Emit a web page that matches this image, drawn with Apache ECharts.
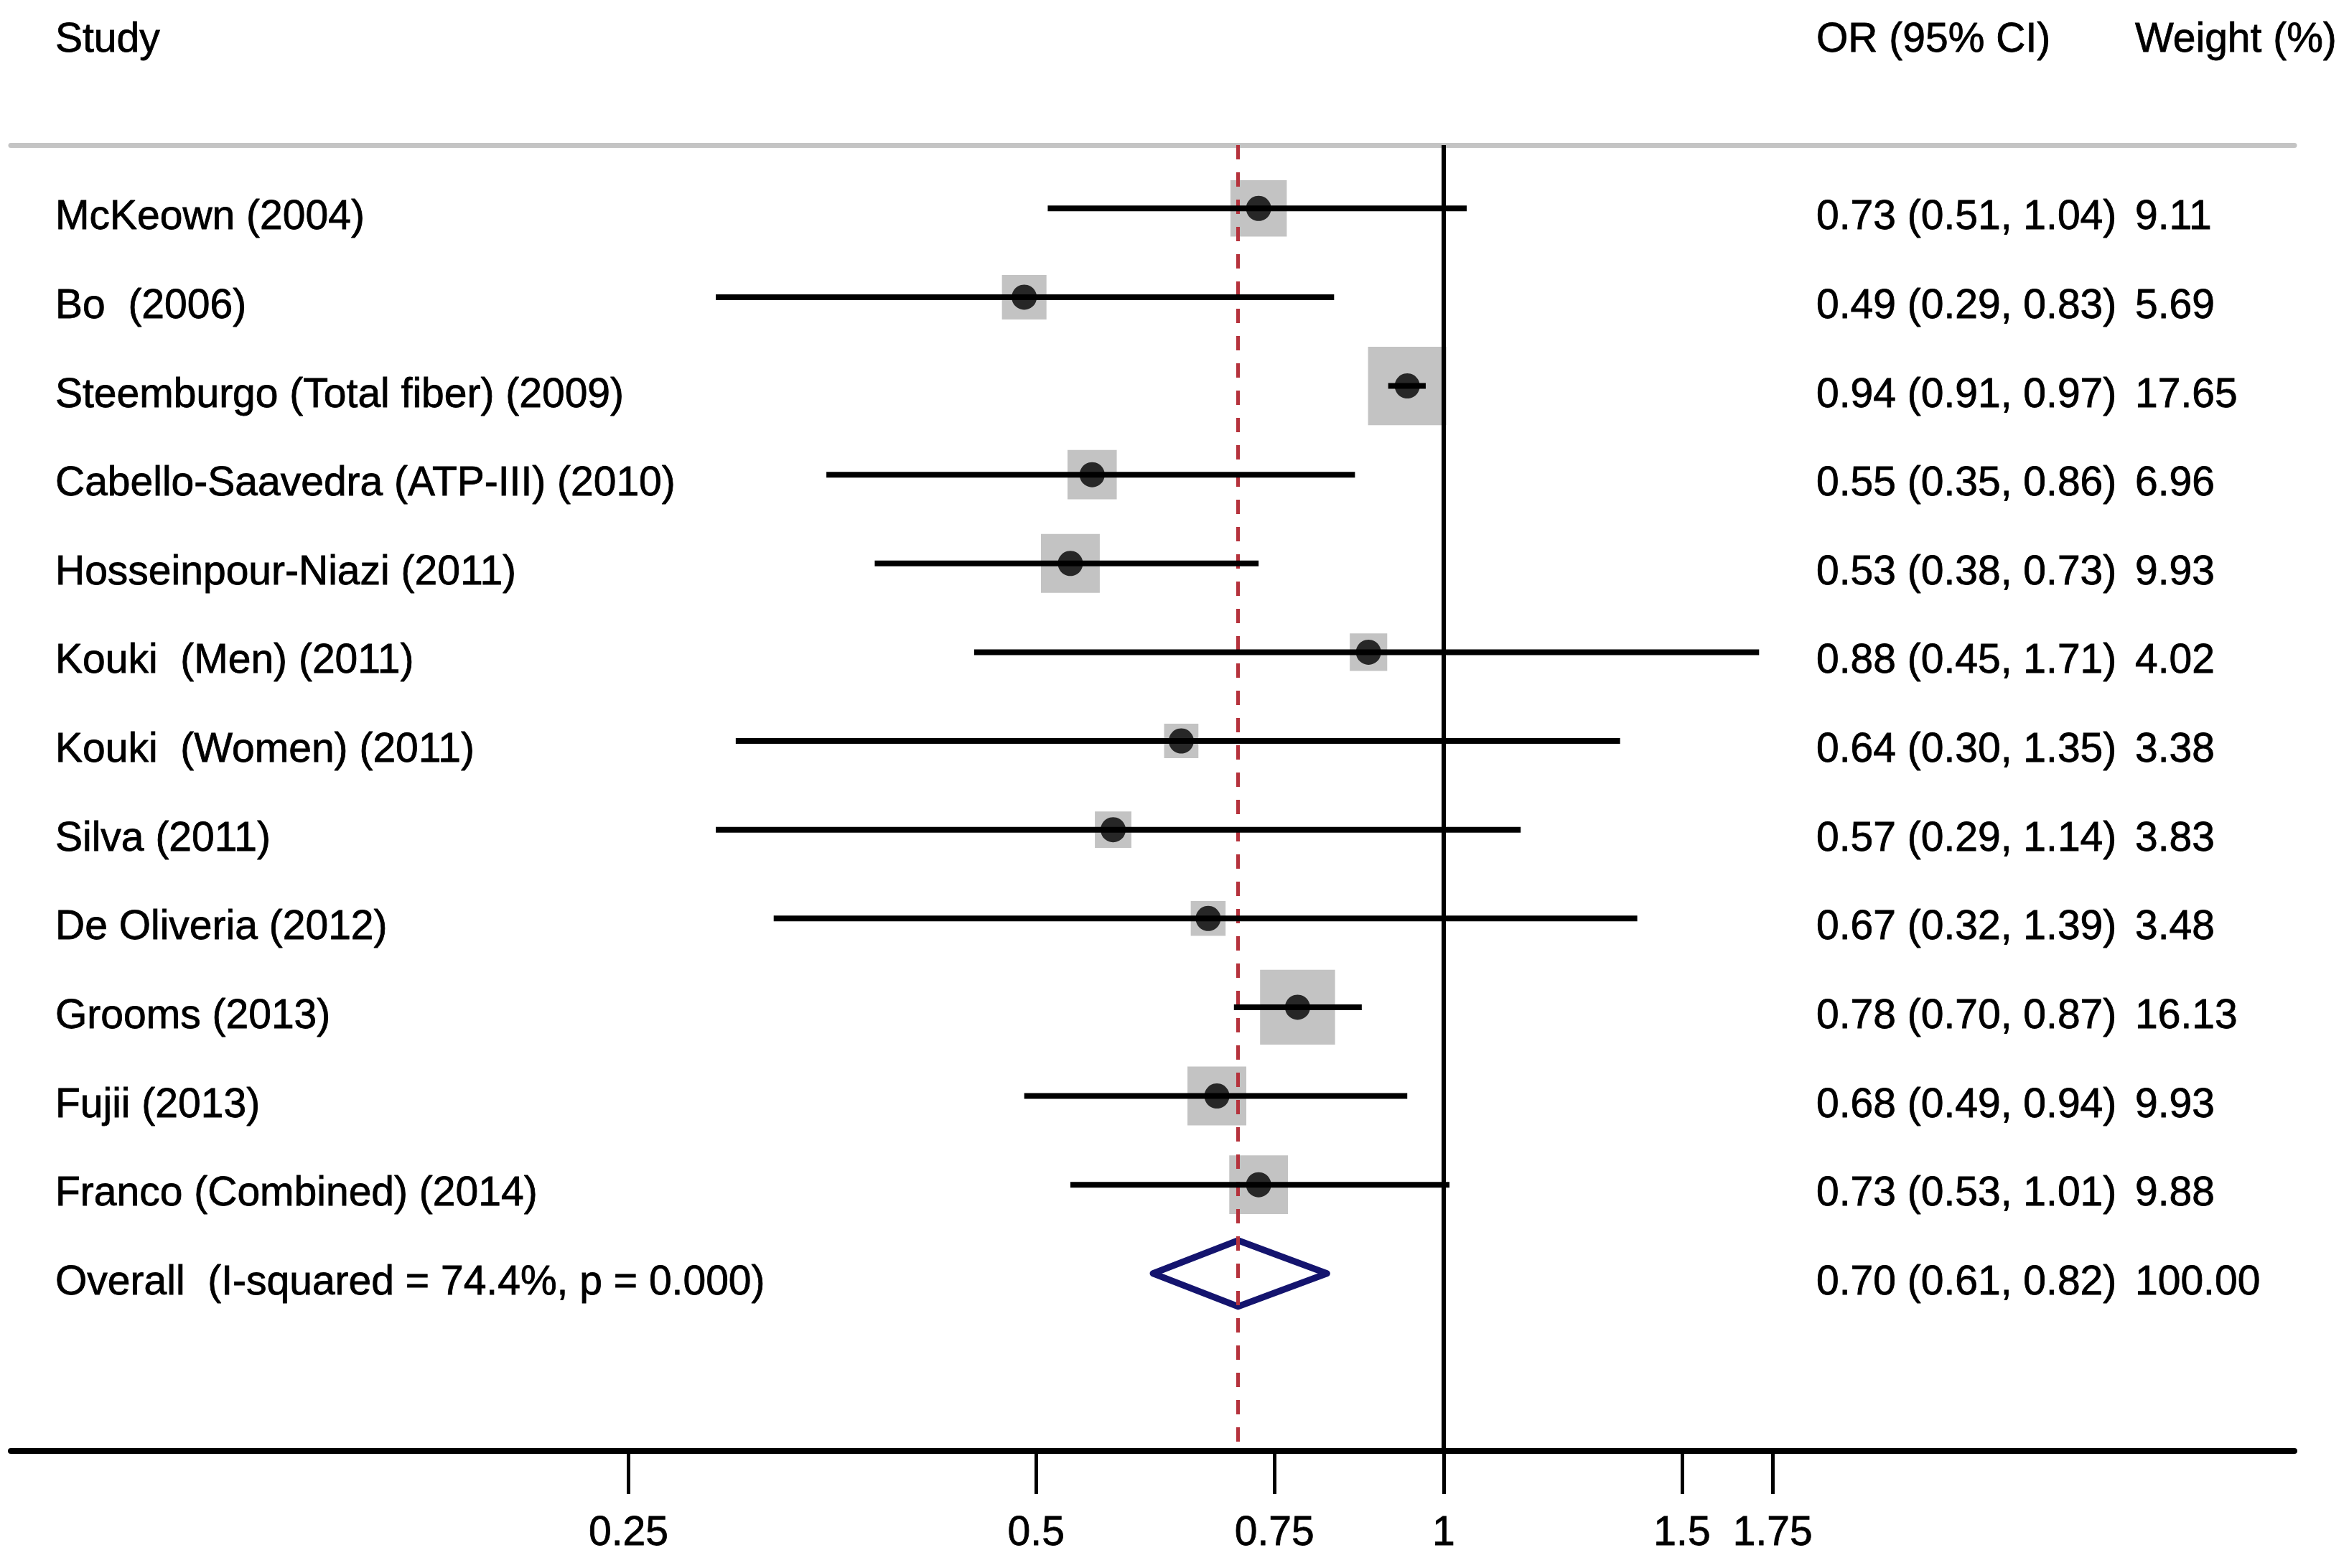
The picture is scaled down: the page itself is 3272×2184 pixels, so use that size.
<!DOCTYPE html>
<html>
<head>
<meta charset="utf-8">
<script src="https://cdn.jsdelivr.net/npm/echarts@6/dist/echarts.min.js"></script>
<style>
  html, body { margin: 0; padding: 0; background: #fff; }
  #chartWrap { width: 3272px; height: 2184px; }
</style>
</head>
<body>
<div id="chartWrap"></div>
<script>
// study rows, top to bottom
const studies = [
  'McKeown (2004)',
  'Bo  (2006)',
  'Steemburgo (Total fiber) (2009)',
  'Cabello-Saavedra (ATP-III) (2010)',
  'Hosseinpour-Niazi (2011)',
  'Kouki  (Men) (2011)',
  'Kouki  (Women) (2011)',
  'Silva (2011)',
  'De Oliveria (2012)',
  'Grooms (2013)',
  'Fujii (2013)',
  'Franco (Combined) (2014)'
]
const oddsRatio = [0.73, 0.49, 0.94, 0.55, 0.53, 0.88, 0.64, 0.57, 0.67, 0.78, 0.68, 0.73]
const ciLower = [0.51, 0.29, 0.91, 0.35, 0.38, 0.45, 0.30, 0.29, 0.32, 0.70, 0.49, 0.53]
const ciUpper = [1.04, 0.83, 0.97, 0.86, 0.73, 1.71, 1.35, 1.14, 1.39, 0.87, 0.94, 1.01]
const weights = [9.11, 5.69, 17.65, 6.96, 9.93, 4.02, 3.38, 3.83, 3.48, 16.13, 9.93, 9.88]
const orText = [
  '0.73 (0.51, 1.04)', '0.49 (0.29, 0.83)', '0.94 (0.91, 0.97)', '0.55 (0.35, 0.86)',
  '0.53 (0.38, 0.73)', '0.88 (0.45, 1.71)', '0.64 (0.30, 1.35)', '0.57 (0.29, 1.14)',
  '0.67 (0.32, 1.39)', '0.78 (0.70, 0.87)', '0.68 (0.49, 0.94)', '0.73 (0.53, 1.01)'
]
const weightText = ['9.11', '5.69', '17.65', '6.96', '9.93', '4.02', '3.38', '3.83', '3.48', '16.13', '9.93', '9.88']

// pooled estimate (plotted point, label as printed)
const overallLabel = 'Overall  (I-squared = 74.4%, p = 0.000)'
const overallOR = 0.705
const overallLower = 0.61
const overallUpper = 0.82
const overallText = '0.70 (0.61, 0.82)'
const overallWeight = '100.00'

const headers = ['Study', 'OR (95% CI)', 'Weight (%)']
const tickValues = [0.25, 0.5, 0.75, 1, 1.5, 1.75]
const tickLabels = ['0.25', '0.5', '0.75', '1', '1.5', '1.75']

const FAMILY = '"Liberation Sans", Arial, Helvetica, sans-serif'
const FONT = '57px ' + FAMILY
const COL_X = [77, 2530, 2974]
const ln = Math.log

const rowNames = studies.concat([overallLabel])
const rowOR = orText.concat([overallText])
const rowW = weightText.concat([overallWeight])
const overallRow = studies.length

const textStyle = t => ({
  text: t, font: FONT, fill: '#000', stroke: '#000', lineWidth: 0.8,
  textAlign: 'left', textVerticalAlign: 'middle'
})

const chart = echarts.init(document.getElementById('chartWrap'), null, { renderer: 'svg' })

const option = {
  animation: false,
  backgroundColor: '#fff',
  grid: { left: 15, right: 76, top: 202, bottom: 163, outerBoundsMode: 'none' },
  xAxis: [{
    type: 'value',
    min: -2.437,
    max: 1.447,
    position: 'bottom',
    splitLine: { show: false },
    axisLine: { show: true, onZero: false, lineStyle: { color: '#000', width: 8 } },
    axisTick: { show: true, length: 60, customValues: tickValues.map(ln), lineStyle: { color: '#000', width: 5 } },
    axisLabel: {
      show: true,
      margin: 82,
      customValues: tickValues.map(ln),
      color: '#000',
      fontSize: 57,
      fontFamily: FAMILY,
      textBorderColor: '#000',
      textBorderWidth: 0.8,
      formatter: function (v) {
        const i = tickValues.findIndex(t => Math.abs(ln(t) - v) < 1e-6)
        return i >= 0 ? tickLabels[i] : ''
      }
    }
  }, {
    type: 'value',
    min: -2.437,
    max: 1.447,
    position: 'top',
    splitLine: { show: false },
    axisLine: { show: true, onZero: false, lineStyle: { color: '#c4c4c4', width: 7 } },
    axisTick: { show: false },
    axisLabel: { show: false }
  }],
  yAxis: {
    type: 'value',
    min: -0.714,
    max: 14.0,
    inverse: true,
    show: false
  },
  graphic: headers.map((h, i) => ({
    type: 'text',
    x: COL_X[i],
    y: 52,
    style: textStyle(h)
  })),
  series: [
    {
      // pooled estimate line
      type: 'scatter',
      data: [],
      markLine: {
        silent: true,
        symbol: 'none',
        label: { show: false },
        data: [
          { xAxis: ln(overallOR), lineStyle: { color: '#b5323c', width: 5, type: [20, 18] } }
        ]
      },
      z: 2
    },
    {
      type: 'scatter',
      name: 'weight',
      symbol: 'rect',
      symbolSize: function (val) { return 26 * Math.sqrt(val[2]) },
      itemStyle: { color: '#b4b4b4' },
      data: oddsRatio.map((v, i) => [ln(v), i, weights[i]]),
      z: 3
    },
    {
      // null effect line at OR = 1
      type: 'scatter',
      data: [],
      markLine: {
        silent: true,
        symbol: 'none',
        label: { show: false },
        data: [
          { xAxis: 0, lineStyle: { color: '#000', width: 6, type: 'solid' } }
        ]
      },
      z: 4
    },
    {
      type: 'custom',
      name: 'ci',
      encode: { x: [1, 2], y: 0 },
      renderItem: function (params, api) {
        const a = api.coord([api.value(1), api.value(0)])
        const b = api.coord([api.value(2), api.value(0)])
        return {
          type: 'line',
          shape: { x1: a[0], y1: a[1], x2: b[0], y2: b[1] },
          style: { stroke: '#000', lineWidth: 8 }
        }
      },
      data: ciLower.map((lo, i) => [i, ln(lo), ln(ciUpper[i])]),
      z: 5
    },
    {
      type: 'scatter',
      name: 'estimate',
      symbol: 'circle',
      symbolSize: 35,
      itemStyle: { color: '#000' },
      data: oddsRatio.map((v, i) => [ln(v), i]),
      z: 6
    },
    {
      type: 'custom',
      name: 'overall',
      encode: { x: [1, 2, 3], y: 0 },
      renderItem: function (params, api) {
        const y = api.value(0)
        const c = api.coord([api.value(1), y])
        const l = api.coord([api.value(2), y])
        const r = api.coord([api.value(3), y])
        const h = 46
        return {
          type: 'polygon',
          shape: { points: [[l[0], l[1]], [c[0], c[1] - h], [r[0], r[1]], [c[0], c[1] + h]] },
          style: { fill: 'rgba(255,255,255,0)', stroke: '#14146e', lineWidth: 9, lineJoin: 'round' }
        }
      },
      data: [[overallRow, ln(overallOR), ln(overallLower), ln(overallUpper)]],
      z: 4
    },
    {
      type: 'custom',
      name: 'text',
      encode: { y: 0 },
      renderItem: function (params, api) {
        const i = params.dataIndex
        const y = api.coord([0, api.value(0)])[1] + 9
        const cells = [rowNames[i], rowOR[i], rowW[i]]
        return {
          type: 'group',
          children: cells.map((t, k) => ({
            type: 'text',
            x: COL_X[k],
            y: y,
            style: textStyle(t)
          }))
        }
      },
      data: rowNames.map((n, i) => [i]),
      z: 7
    }
  ]
}

chart.setOption(option)
</script>
</body>
</html>
